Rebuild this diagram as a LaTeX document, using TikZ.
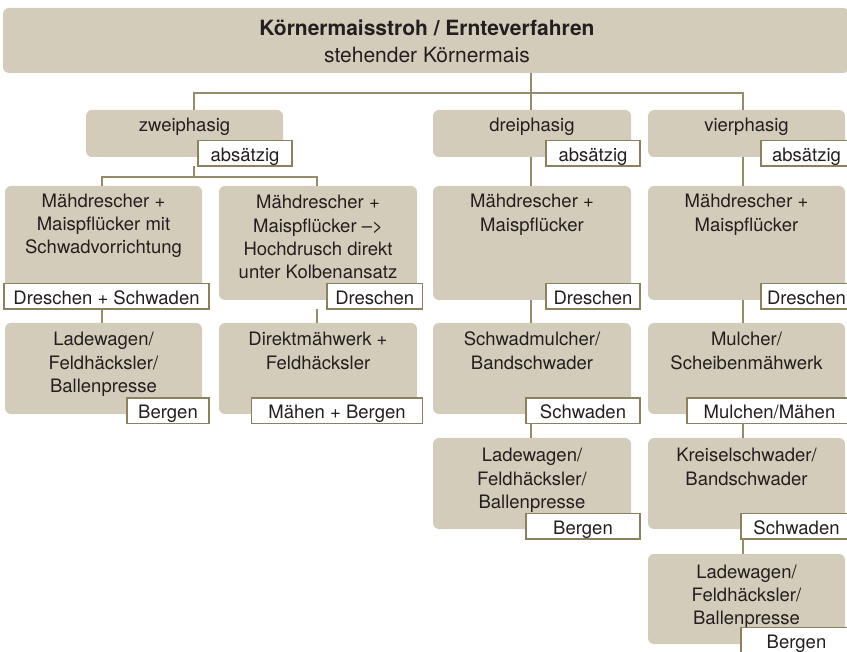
\documentclass[tikz,border=0pt]{standalone}
\usepackage{fontspec}
\setmainfont{TeX Gyre Heros}
\definecolor{boxc}{RGB}{212,204,186}
\definecolor{connc}{RGB}{150,140,108}
\definecolor{lblc}{RGB}{140,128,95}
\definecolor{txtc}{RGB}{35,31,32}
\newcommand{\bodyfont}{\fontsize{18.5}{23.2}\selectfont}
\newcommand{\hdrfont}{\fontsize{21}{26}\selectfont}
\newcommand{\btext}[1]{\parbox[t]{200pt}{\centering #1}}
\begin{document}
\begin{tikzpicture}[x=1pt,y=-1pt,
  gbox/.style={fill=boxc, rounded corners=6pt, inner sep=0pt, outer sep=0pt, anchor=north west},
  lbl/.style={draw=lblc, line width=1.3pt, fill=white, inner sep=0pt, outer sep=0pt,
    minimum height=25.5pt, text height=16pt, text depth=0pt, anchor=south east,
    font=\bodyfont, text=txtc},
  btxt/.style={inner sep=0pt, anchor=base, font=\bodyfont, text=txtc},
  htxt/.style={inner sep=0pt, anchor=base, text=txtc},
  conn/.style={draw=connc, line width=1.3pt}]
\useasboundingbox (0,0) rectangle (847,652);
\clip (0,0) rectangle (847,652);

% header
\node[gbox, minimum width=846pt, minimum height=65pt] (hdr) at (3,8) {};
\node[htxt, font=\hdrfont\bfseries] (ttl) at (427,36) {Körnermaisstroh / Ernteverfahren};
\node[htxt, font=\hdrfont] (sub) at (427,63) {stehender Körnermais};

% phase row
\node[gbox, minimum width=197pt, minimum height=47pt] (zwei) at (86,110) {};
\node[btxt] (zweit) at (184.5,132) {zweiphasig};
\node[lbl, minimum width=94pt] (zweil) at (292,166) {absätzig};

\node[gbox, minimum width=198pt, minimum height=47pt] (drei) at (433,110) {};
\node[btxt] (dreit) at (532,132) {dreiphasig};
\node[lbl, minimum width=94pt] (dreil) at (640,166) {absätzig};

\node[gbox, minimum width=197pt, minimum height=47pt] (vier) at (648,110) {};
\node[btxt] (viert) at (746.5,132) {vierphasig};
\node[lbl, minimum width=91pt] (vierl) at (852,166) {absätzig};

% row 1
\node[gbox, minimum width=197pt, minimum height=114pt] (a1) at (5,186) {};
\node[btxt] (a1t) at (103.5,207.5) {\btext{Mähdrescher +\\Maispflücker mit\\Schwadvorrichtung}};
\node[lbl, minimum width=205pt] (a1l) at (209,309) {Dreschen + Schwaden};

\node[gbox, minimum width=198pt, minimum height=114pt] (b1) at (219,186) {};
\node[btxt] (b1t) at (318,209) {\btext{Mähdrescher +\\Maispflücker –>\\Hochdrusch direkt\\unter Kolbenansatz}};
\node[lbl, minimum width=95.5pt] (b1l) at (422.5,309) {Dreschen};

\node[gbox, minimum width=198pt, minimum height=114pt] (c1) at (433,186) {};
\node[btxt] (c1t) at (532,208) {\btext{Mähdrescher +\\Maispflücker}};
\node[lbl, minimum width=94pt] (c1l) at (640,309) {Dreschen};

\node[gbox, minimum width=197pt, minimum height=114pt] (d1) at (648,186) {};
\node[btxt] (d1t) at (746.5,208) {\btext{Mähdrescher +\\Maispflücker}};
\node[lbl, minimum width=91pt] (d1l) at (852,309) {Dreschen};

% row 2
\node[gbox, minimum width=197pt, minimum height=91pt] (a2) at (5,323) {};
\node[btxt] (a2t) at (103.5,346) {\btext{Ladewagen/\\Feldhäcksler/\\Ballenpresse}};
\node[lbl, minimum width=82pt] (a2l) at (209,423.5) {Bergen};

\node[gbox, minimum width=198pt, minimum height=91pt] (b2) at (219,323) {};
\node[btxt] (b2t) at (318,346) {\btext{Direktmähwerk +\\Feldhäcksler}};
\node[lbl, minimum width=171pt] (b2l) at (422.5,423.5) {Mähen + Bergen};

\node[gbox, minimum width=198pt, minimum height=91pt] (c2) at (433,323) {};
\node[btxt] (c2t) at (532,346) {\btext{Schwadmulcher/\\Bandschwader}};
\node[lbl, minimum width=114pt] (c2l) at (640,423.5) {Schwaden};

\node[gbox, minimum width=197pt, minimum height=91pt] (d2) at (648,323) {};
\node[btxt] (d2t) at (746.5,346) {\btext{Mulcher/\\Scheibenmähwerk}};
\node[lbl, minimum width=165pt] (d2l) at (852,423.5) {Mulchen/Mähen};

% row 3
\node[gbox, minimum width=198pt, minimum height=91pt] (c3) at (433,438) {};
\node[btxt] (c3t) at (532,462) {\btext{Ladewagen/\\Feldhäcksler/\\Ballenpresse}};
\node[lbl, minimum width=114pt] (c3l) at (640,539) {Bergen};

\node[gbox, minimum width=197pt, minimum height=91pt] (d3) at (648,438) {};
\node[btxt] (d3t) at (746.5,462) {\btext{Kreiselschwader/\\Bandschwader}};
\node[lbl, minimum width=111pt] (d3l) at (852,539) {Schwaden};

% row 4
\node[gbox, minimum width=197pt, minimum height=90pt] (d4) at (648,554) {};
\node[btxt] (d4t) at (746.5,578) {\btext{Ladewagen/\\Feldhäcksler/\\Ballenpresse}};
\node[lbl, minimum width=111pt] (d4l) at (852,653) {Bergen};

% connectors
\coordinate (bL) at (194,93);
\coordinate (bM) at (531,93);
\coordinate (bR) at (743,93);
\coordinate (jZ) at (194,177);
\coordinate (jA) at (102,177);
\coordinate (jB) at (317,177);
\coordinate (xC) at (531,0);
\coordinate (xD) at (743,0);

\draw[conn] (hdr.south -| bM) -- (bM);
\draw[conn] (zwei.north -| bL) -- (bL) -- (bR) -- (vier.north -| bR);
\draw[conn] (bM) -- (drei.north -| bM);

\draw[conn] (zweil.south -| jZ) -- (jZ);
\draw[conn] (a1.north -| jA) -- (jA) -- (jB) -- (b1.north -| jB);
\draw[conn] (a1l.south -| jA) -- (a2.north -| jA);
\draw[conn] (b1l.south -| jB) -- (b2.north -| jB);

\draw[conn] (drei.south -| xC) -- (c1.north -| xC);
\draw[conn] (c1.south -| xC) -- (c2.north -| xC);
\draw[conn] (c2l.south -| xC) -- (c3.north -| xC);

\draw[conn] (vier.south -| xD) -- (d1.north -| xD);
\draw[conn] (d1.south -| xD) -- (d2.north -| xD);
\draw[conn] (d2l.south -| xD) -- (d3.north -| xD);
\draw[conn] (d3l.south -| xD) -- (d4.north -| xD);
\end{tikzpicture}
\end{document}
